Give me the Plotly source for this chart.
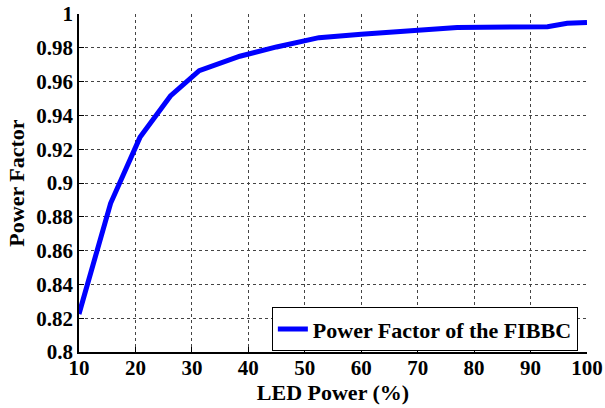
import plotly.graph_objects as go

led_power = [10, 15.6, 20.8, 26.2, 31.3, 38.5, 45, 52.5, 60, 70, 77, 93, 96.5, 100]
power_factor = [0.8225, 0.888, 0.927, 0.9515, 0.9665, 0.975, 0.9805, 0.986, 0.988, 0.990, 0.992, 0.9925, 0.9945, 0.995]

x_ticks = [10, 20, 30, 40, 50, 60, 70, 80, 90, 100]
y_ticks = [0.8, 0.82, 0.84, 0.86, 0.88, 0.9, 0.92, 0.94, 0.96, 0.98, 1]
y_tick_text = ["0.8", "0.82", "0.84", "0.86", "0.88", "0.9", "0.92", "0.94", "0.96", "0.98", "1"]

font_family = "Liberation Serif, Times New Roman, serif"

fig = go.Figure()
fig.add_trace(go.Scatter(
    x=led_power, y=power_factor, mode="lines",
    line=dict(color="#0000FF", width=5),
    name="<b>Power Factor of the FIBBC</b>",
))

axis_common = dict(
    showgrid=True, gridcolor="#444444", griddash="dot", gridwidth=1,
    showline=True, linecolor="black", linewidth=1.5,
    ticks="inside", ticklen=5, tickcolor="black",
    zeroline=False, mirror=False, automargin=False,
    tickfont=dict(family=font_family, size=21, color="black"),
)

fig.update_xaxes(
    range=[10, 100], tickvals=x_ticks, ticktext=[f"<b>{v}</b>" for v in x_ticks],
    title=dict(text="<b>LED Power (%)</b>", font=dict(family=font_family, size=22, color="black"), standoff=0),
    ticklabelstandoff=-4,
    **axis_common,
)
fig.update_yaxes(
    range=[0.8, 1.0], tickvals=y_ticks, ticktext=[f"<b>{t}</b>" for t in y_tick_text],
    title=dict(text="<b>Power Factor</b>", font=dict(family=font_family, size=22, color="black"), standoff=6),
    **axis_common,
)

fig.update_layout(
    width=605, height=408,
    margin=dict(l=79, r=18, t=14, b=56),
    paper_bgcolor="white", plot_bgcolor="white",
    font=dict(family=font_family, color="black"),
    showlegend=True,
    legend=dict(
        x=0.982, y=0.002, xanchor="right", yanchor="bottom",
        bgcolor="white", bordercolor="black", borderwidth=1,
        font=dict(family=font_family, size=22, color="black"),
        tracegroupgap=0, itemwidth=30,
    ),
)

fig.write_html("out.html")
